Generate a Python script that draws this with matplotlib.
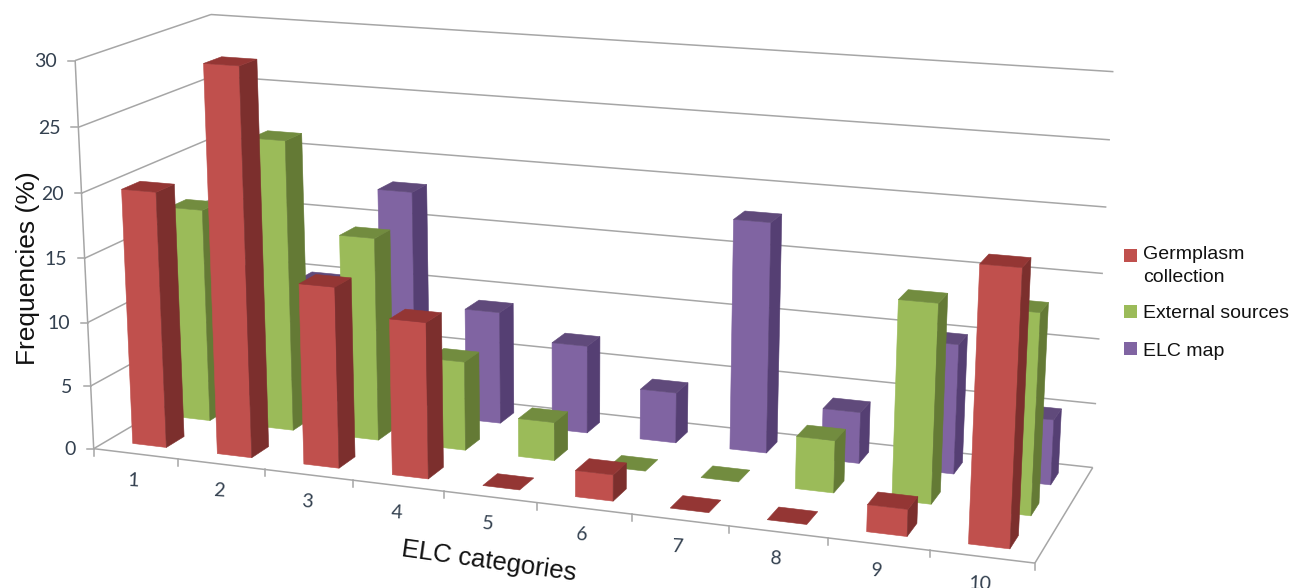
import numpy as np
import matplotlib
matplotlib.use("Agg")
import matplotlib.pyplot as plt
from matplotlib.patches import Polygon, Rectangle

categories = ["1", "2", "3", "4", "5", "6", "7", "8", "9", "10"]
series_names = ["Germplasm\ncollection", "External sources", "ELC map"]
germplasm = [20, 30, 14, 12, 0, 2, 0, 0, 2, 20]
external = [17, 23, 16, 7, 3, 0, 0, 4, 15, 15]
elc_map = [10, 10, 18, 9, 7, 4, 18, 4, 10, 5]
z_ticks = [0, 5, 10, 15, 20, 25, 30]

FRONT = ["#C0504D", "#9BBB59", "#8064A2"]
SIDE = ["#7C2F2D", "#647A35", "#553F73"]
TOP = ["#943634", "#728C3F", "#604A7B"]
GRID = "#A6A6A6"
BAR_W = 0.40
BAR_D = 0.40

# Camera: world (category, depth, value) to pixel positions, solved by DLT
world = np.array([
    (0, 0, 0), (0, 0, 10), (0, 0, 20), (0, 0, 30), (0, 3, 30), (10, 3, 30),
    (10, 3, 20), (10, 3, 0), (10, 0, 0), (5, 0, 0), (2, 0, 0), (8, 0, 0),
    (0, 3, 0),
], float)
pixel = np.array([
    (95, 449), (87, 322), (82, 193), (74, 60), (212, 15), (1113, 72),
    (1107, 207), (1093, 467), (1035, 563), (536, 503), (266, 470), (828, 538),
    (222, 372),
], float)


def solve_camera(w, p):
    rows = []
    for (x, y, z), (u, v) in zip(w, p):
        rows.append([x, y, z, 1, 0, 0, 0, 0, -u * x, -u * y, -u * z, -u])
        rows.append([0, 0, 0, 0, x, y, z, 1, -v * x, -v * y, -v * z, -v])
    return np.linalg.svd(np.array(rows))[2][-1].reshape(3, 4)


CAM = solve_camera(world, pixel)


def project(x, y, z):
    h = CAM @ np.array([x, y, z, 1.0])
    return h[0] / h[2], h[1] / h[2]


fig = plt.figure(figsize=(12.91, 5.88), dpi=100)
ax = fig.add_axes([0, 0, 1, 1])
ax.set_xlim(0, 1291)
ax.set_ylim(588, 0)
ax.axis("off")


def seg(a, b, lw=1.1):
    pa, pb = project(*a), project(*b)
    ax.plot([pa[0], pb[0]], [pa[1], pb[1]], color=GRID, lw=lw,
            solid_capstyle="butt", zorder=1)


# Walls and floor outline
for z in z_ticks:
    if z > 0:
        seg((0, 0, z), (0, 3, z))
        seg((0, 3, z), (10, 3, z))
seg((0, 0, 0), (0, 3, 0))
seg((0, 3, 0), (10, 3, 0))
seg((0, 0, 0), (0, 0, 30))
seg((0, 0, 0), (10, 0, 0))
seg((10, 0, 0), (10, 3, 0))

# Axis ticks
for z in z_ticks:
    px, py = project(0, 0, z)
    ax.plot([px - 7, px], [py, py], color=GRID, lw=1.1, zorder=1)
    ax.text(px - 18, py + 1, str(z), ha="right", va="center", fontsize=14,
            family="Lato", color="#33404F")
for k in range(len(categories) + 1):
    px, py = project(k, 0, 0)
    ax.plot([px, px], [py, py + 7], color=GRID, lw=1.1, zorder=1)
for k, label in enumerate(categories):
    px, py = project(k + 0.5, 0, 0)
    ax.text(px - 2, py + 27, label, ha="center", va="center", fontsize=14,
            rotation=-3, family="Lato", color="#33404F")


def draw_bar(k, s, value):
    x0, x1 = k + 0.5 - BAR_W / 2, k + 0.5 + BAR_W / 2
    y0, y1 = s + 0.5 - BAR_D / 2, s + 0.5 + BAR_D / 2
    faces = []
    if value > 0:
        faces.append(([(x0, y0, 0), (x1, y0, 0), (x1, y0, value), (x0, y0, value)], FRONT[s]))
        faces.append(([(x1, y0, 0), (x1, y1, 0), (x1, y1, value), (x1, y0, value)], SIDE[s]))
    faces.append(([(x0, y0, value), (x1, y0, value), (x1, y1, value), (x0, y1, value)], TOP[s]))
    for corners, colour in faces:
        ax.add_patch(Polygon([project(*c) for c in corners], closed=True,
                             facecolor=colour, edgecolor=colour, lw=0.4, zorder=2))


# Rows are painted back to front so nearer bars cover farther ones
all_series = [germplasm, external, elc_map]
for s in (2, 1, 0):
    for k, value in enumerate(all_series[s]):
        draw_bar(k, s, value)

ax.text(28, 268, "Frequencies (%)", rotation=90, ha="center", va="center",
        fontsize=19, family="Liberation Sans", color="#111111")
ax.text(489, 561, "ELC categories", rotation=-8, ha="center", va="center",
        fontsize=18.5, family="Liberation Sans", color="#111111")

# Legend
legend_y = [(249, 266, series_names[0]), (305, 313, series_names[1]), (342, 351, series_names[2])]
for i, (box_top, text_y, name) in enumerate(legend_y):
    ax.add_patch(Rectangle((1124, box_top), 13, 13, facecolor=FRONT[i], edgecolor="none"))
    ax.text(1143, text_y, name, ha="left", va="center", fontsize=14,
            family="Liberation Sans", color="#111111", linespacing=1.45)

fig.savefig("out.png", dpi=100)
